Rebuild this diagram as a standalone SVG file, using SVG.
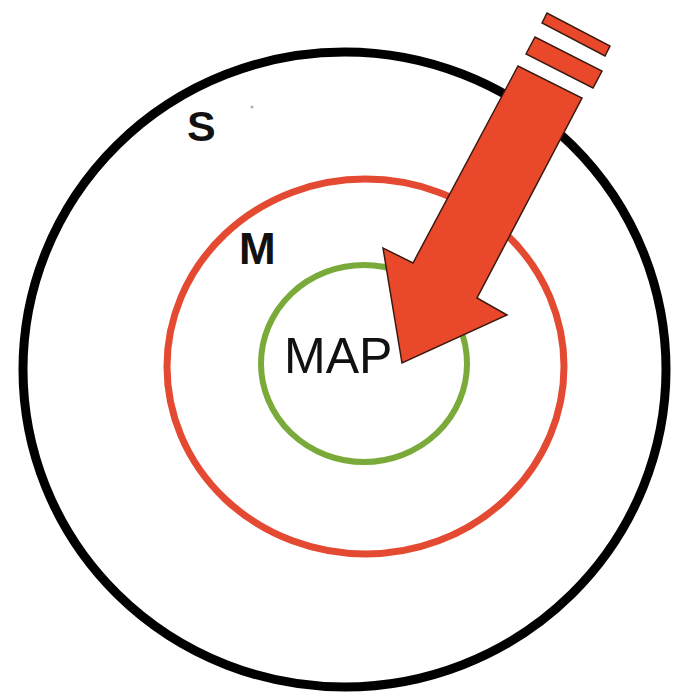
<svg xmlns="http://www.w3.org/2000/svg" width="673" height="694" viewBox="0 0 673 694">
  <style>
    .ring { fill: none; }
    .lbl { font-family: "Liberation Sans", Arial, sans-serif; fill: #111; }
    .arrow { fill: #e9492a; stroke: #3a1a10; stroke-width: 1.5; stroke-linejoin: miter; }
  </style>
  <rect width="673" height="694" fill="#ffffff"/>
  <g id="ring-s">
    <ellipse class="ring" cx="344.5" cy="369.5" rx="321.5" ry="317.5" stroke="#000000" stroke-width="9"/>
    <text class="lbl" x="187" y="141" font-size="43" font-weight="bold">S</text>
  </g>
  <g id="ring-m">
    <ellipse class="ring" cx="365.5" cy="366.5" rx="198.5" ry="187.5" stroke="#e44a32" stroke-width="7"/>
    <text class="lbl" x="239" y="264" font-size="44" font-weight="bold">M</text>
  </g>
  <g id="ring-map">
    <ellipse class="ring" cx="364" cy="363.5" rx="103" ry="98.5" stroke="#7aab3a" stroke-width="6"/>
    <text class="lbl" x="284" y="373" font-size="50">MAP</text>
  </g>
  <circle cx="252" cy="107" r="1.5" fill="#b0b0b0"/>
  <g id="connectors">
    <g id="arrow">
      <polygon class="arrow" points="402,363 383,248 413,263 518,66 582,98 477,298 507,315"/>
      <polygon class="arrow" points="526,54 535,37 602,71 593,88"/>
      <polygon class="arrow" points="542,23 547,13 610,46 605,56"/>
    </g>
  </g>
</svg>
